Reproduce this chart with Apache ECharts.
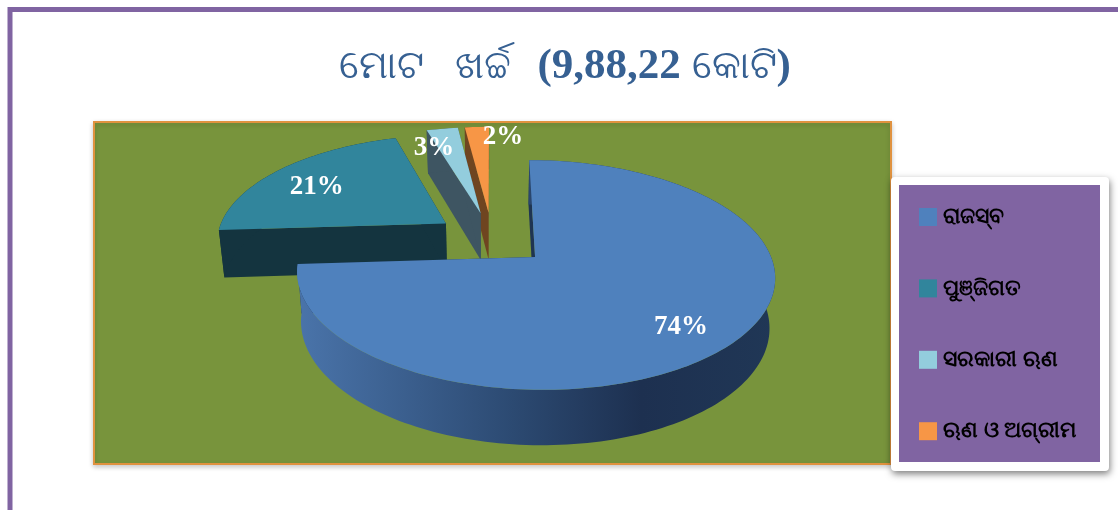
<!DOCTYPE html>
<html>
<head>
<meta charset="utf-8">
<style>html,body{margin:0;padding:0;background:#fff}#c{width:1118px;height:510px}</style>
<script src="https://cdn.jsdelivr.net/npm/echarts@6/dist/echarts.min.js"></script>
</head>
<body>
<div id="c"></div>
<script>
const titleWords = 'ମୋଟ   ଖର୍ଚ୍ଚ';
const titleAmount = '(9,88,22';
const titleUnit = 'କୋଟି';
const categories = ['ରାଜସ୍ବ', 'ପୁଞ୍ଜିଗତ', 'ସରକାରୀ ଋଣ', 'ଋଣ ଓ ଅଗ୍ରୀମ'];
const shares = [74, 21.4, 2.6, 2];
const topColors = ['#4f81bd', '#31859c', '#93cddd', '#f79646'];
const wallColors = ['#1f3552', '#14343f', '#3e5562', '#6f4520'];

const total = shares.reduce((a, b) => a + b, 0);
const startAngles = shares.map((v, i) => shares.slice(0, i).reduce((a, b) => a + b, 0) / total * 2 * Math.PI);

// projection of the tilted, exploded pie
const view = {
  ox: 535, oy: 257, a: 236, h: 112, p: 0.1565, depth: 49, shrink: 0.98,
  cx: -0.182, cz: 0.171, explode: 0.25
};
function project(X, Z, lower) {
  const s = 1 / (1 + view.p * Z);
  const k = lower ? view.shrink : 1;
  return [
    view.ox + view.a * ((X - view.cx) * s * k + view.cx),
    view.oy - view.h * Z * s * k + (lower ? view.depth * s : 0)
  ];
}
const labelLayout = [
  { rho: 0.75, dx: 2, dy: 7 },
  { rho: 0.75, dx: -2, dy: 5 },
  { rho: 0.8, dx: -15, dy: 4 },
  { rho: 1.0, dx: 26, dy: 10 }
];

function renderSlice(i) {
  return function (params, api) {
    const value = api.value(0);
    const t0 = startAngles[i];
    const t1 = t0 + value / total * 2 * Math.PI;
    const mid = (t0 + t1) / 2;
    const ax = view.cx + view.explode * Math.sin(mid);
    const az = view.cz + view.explode * Math.cos(mid);
    const rim = t => [ax + Math.sin(t), az + Math.cos(t)];
    const n = Math.max(6, Math.round((t1 - t0) * 40));
    const arcTop = [], arcLow = [];
    for (let k = 0; k <= n; k++) {
      const r = rim(t0 + (t1 - t0) * k / n);
      arcTop.push(project(r[0], r[1], false));
      arcLow.push(project(r[0], r[1], true));
    }
    const apexTop = project(ax, az, false), apexLow = project(ax, az, true);
    const wall = wallColors[i];
    const outerFill = i === 0 ? {
      type: 'linear', x: 0, y: 0, x2: 1, y2: 0,
      colorStops: [
        { offset: 0, color: '#4a74aa' },
        { offset: 0.45, color: '#2c4a72' },
        { offset: 0.72, color: '#1d3050' },
        { offset: 1, color: '#203756' }
      ]
    } : wall;
    const poly = (points, fill) => ({ type: 'polygon', shape: { points }, style: { fill } });
    const lay = labelLayout[i];
    const lp = project(ax + lay.rho * Math.sin(mid), az + lay.rho * Math.cos(mid), false);
    return {
      type: 'group',
      children: [
        poly([apexTop, arcTop[0], arcLow[0], apexLow], wall),
        poly([apexTop, arcTop[n], arcLow[n], apexLow], wall),
        poly(arcTop.concat(arcLow.slice().reverse()), outerFill),
        poly([apexTop].concat(arcTop), topColors[i]),
        {
          type: 'text',
          z2: 10,
          style: {
            x: lp[0] + lay.dx, y: lp[1] + lay.dy,
            text: Math.round(value) + '%', fill: '#fff',
            font: 'bold 27px "Liberation Serif"',
            align: 'center', verticalAlign: 'middle'
          }
        }
      ]
    };
  };
}

const drawOrder = [3, 2, 1, 0];
const chart = echarts.init(document.getElementById('c'), null, { renderer: 'canvas' });
chart.setOption({
  animation: false,
  backgroundColor: '#ffffff',
  title: {
    text: '{o|' + titleWords + '}{s|   }{d|' + titleAmount + ' }{o|' + titleUnit + '}{d|)}',
    left: 560, top: 37, textAlign: 'center',
    textStyle: {
      color: '#366092',
      rich: {
        o: { color: '#366092', fontFamily: '"Noto Sans"', fontWeight: 'normal', fontSize: 39, lineHeight: 50 },
        s: { color: '#366092', fontFamily: '"Liberation Serif"', fontWeight: 'bold', fontSize: 36, lineHeight: 50 },
        d: { color: '#366092', fontFamily: '"Liberation Serif"', fontWeight: 'bold', fontSize: 43, lineHeight: 50 }
      }
    }
  },
  legend: {
    orient: 'vertical', left: 919, top: 206,
    padding: 0, itemWidth: 18, itemHeight: 18, itemGap: 49.4, icon: 'rect',
    data: categories,
    textStyle: { color: '#000', fontSize: 22, fontWeight: 'bold', lineHeight: 18, fontFamily: '"Noto Sans"', padding: [0, 0, 0, 1] }
  },
  graphic: [
    { type: 'polyline', z: 0, shape: { points: [[10, 510], [10, 9.5], [1118, 9.5]] }, style: { stroke: '#8064a2', lineWidth: 5, fill: null } },
    { type: 'rect', z: 0, shape: { x: 94, y: 122, width: 797, height: 342 },
      style: { fill: '#78943c', stroke: '#e0923f', lineWidth: 2, shadowBlur: 5, shadowColor: 'rgba(0,0,0,0.2)', shadowOffsetY: 2 } },
    { type: 'rect', z: 1, shape: { x: 891, y: 177, width: 218, height: 294, r: 4 },
      style: { fill: '#fff', shadowBlur: 7, shadowColor: 'rgba(0,0,0,0.5)', shadowOffsetX: 1, shadowOffsetY: 3 } },
    { type: 'rect', z: 2, shape: { x: 899, y: 185, width: 201, height: 277 }, style: { fill: '#8064a2' } }
  ],
  series: drawOrder.map(i => ({
    type: 'custom',
    name: categories[i],
    coordinateSystem: 'none',
    z: 3 + drawOrder.indexOf(i),
    silent: true,
    itemStyle: { color: topColors[i] },
    data: [[shares[i]]],
    renderItem: renderSlice(i)
  }))
});
</script>
</body>
</html>
